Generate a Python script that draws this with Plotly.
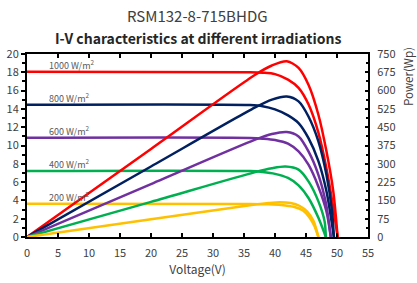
import plotly.graph_objects as go

# ---- data ----
irradiances = ["1000", "800", "600", "400", "200"]
colors = ["#FF0000", "#002060", "#7030A0", "#00B050", "#FFC000"]

# I-V curves (Voltage V, Current A)
iv_v_1000 = [0, 36, 38, 40, 42.1, 43.8, 45.4, 47.0, 48.3, 49.4, 50.1]
iv_i_1000 = [18.05, 18.0, 17.95, 17.8, 17.2, 16.3, 14.5, 11.4, 7.5, 3.2, 0]
iv_v_800 = [0, 36, 38, 40, 42.1, 43.8, 45.4, 47.0, 48.3, 49.5]
iv_i_800 = [14.45, 14.42, 14.3, 13.95, 13.3, 12.45, 10.8, 8.3, 5.0, 0]
iv_v_600 = [0, 36, 38, 40, 42.1, 43.8, 45.4, 47.0, 48.3, 49.0]
iv_i_600 = [10.85, 10.83, 10.75, 10.6, 10.2, 9.35, 7.9, 5.5, 2.8, 0]
iv_v_400 = [0, 36, 38, 40, 42.1, 43.8, 45.4, 47.0, 48.2]
iv_i_400 = [7.22, 7.2, 7.1, 6.9, 6.45, 5.64, 4.26, 2.1, 0]
iv_v_200 = [0, 36, 39, 41, 43, 44.5, 45.5, 46.3, 47.0]
iv_i_200 = [3.63, 3.62, 3.58, 3.5, 3.3, 2.9, 2.2, 1.3, 0]

# P-V curves (Voltage V, Power W)
pv_v_1000 = [0, 20, 36.8, 39.5, 41.9, 43.8, 45.4, 47.0, 48.3, 49.4, 50.1]
pv_p_1000 = [0, 361, 665, 703, 720, 693, 624, 501, 351, 187, 0]
pv_v_800 = [0, 20, 36.8, 39.5, 41.9, 43.8, 45.4, 47.0, 48.3, 49.2, 49.5]
pv_p_800 = [0, 289, 531, 563, 576, 556, 494, 392, 255, 105, 0]
pv_v_600 = [0, 20, 36.8, 39.5, 41.9, 43.8, 45.4, 47.0, 48.2, 49.0]
pv_p_600 = [0, 217, 399, 422, 430, 412, 351, 255, 140, 0]
pv_v_400 = [0, 20, 36.8, 39.5, 41.7, 43.8, 45.4, 47.0, 48.0, 48.2]
pv_p_400 = [0, 144, 266, 282, 289, 276, 228, 146, 64, 0]
pv_v_200 = [0, 20, 36.8, 39, 40.8, 42.5, 44, 45.2, 46.2, 47.0]
pv_p_200 = [0, 72.6, 133, 139, 142, 139, 127, 104, 66, 0]

isc_levels = [18.05, 14.45, 10.85, 7.22, 3.63]

iv_v = [iv_v_1000, iv_v_800, iv_v_600, iv_v_400, iv_v_200]
iv_i = [iv_i_1000, iv_i_800, iv_i_600, iv_i_400, iv_i_200]
pv_v = [pv_v_1000, pv_v_800, pv_v_600, pv_v_400, pv_v_200]
pv_p = [pv_p_1000, pv_p_800, pv_p_600, pv_p_400, pv_p_200]

x_ticks = list(range(0, 56, 5))
y_ticks = list(range(0, 21, 2))
y2_ticks = list(range(0, 751, 75))

FONT = "Noto Sans CJK SC"
TXT = "#404040"

fig = go.Figure()
for k in range(5):
    fig.add_trace(go.Scatter(x=pv_v[k], y=pv_p[k], mode="lines", yaxis="y2",
                             line=dict(color=colors[k], width=2.5, shape="spline", smoothing=0.8),
                             hoverinfo="skip", showlegend=False))
    fig.add_trace(go.Scatter(x=iv_v[k], y=iv_i[k], mode="lines",
                             line=dict(color=colors[k], width=2.5, shape="spline", smoothing=0.8),
                             hoverinfo="skip", showlegend=False))
    fig.add_annotation(x=3.2, y=isc_levels[k], xref="x", yref="y",
                       text=f"{irradiances[k]} W/m<sup>2</sup>", showarrow=False,
                       xanchor="left", yanchor="bottom", yshift=-2,
                       font=dict(family=FONT, size=9, color="#595959"))

fig.update_layout(
    width=417, height=283,
    margin=dict(l=27, r=49, t=54, b=46),
    paper_bgcolor="white", plot_bgcolor="white",
    font=dict(family=FONT, size=11, color=TXT),
    xaxis=dict(range=[0, 55], tickvals=x_ticks, ticks="inside", ticklen=4, tickwidth=1.5,
               tickcolor="black", showline=True, linecolor="black", linewidth=2,
               mirror="ticks", showgrid=False, zeroline=False, automargin=False,
               ticklabelstandoff=5,
               tickfont=dict(size=11, color=TXT),
               title=dict(text="Voltage(V)", font=dict(size=12, color=TXT), standoff=5)),
    yaxis=dict(range=[0, 20], tickvals=y_ticks, ticks="outside", ticklen=4, tickwidth=1.5,
               tickcolor="black", showline=True, linecolor="black", linewidth=2,
               mirror=True, showgrid=False, zeroline=False, automargin=False,
               minor=dict(dtick=1, ticks="outside", ticklen=3, tickcolor="black"),
               tickfont=dict(size=11, color=TXT)),
    yaxis2=dict(range=[0, 750], tickvals=y2_ticks, overlaying="y", side="right",
                ticks="inside", ticklen=3, tickwidth=1.5, tickcolor="black", automargin=False,
                showline=True, linecolor="black", linewidth=2, showgrid=False, zeroline=False,
                ticklabelstandoff=5,
                minor=dict(dtick=37.5, ticks="inside", ticklen=2, tickcolor="black"),
                tickfont=dict(size=11, color=TXT)),
)

fig.add_annotation(text="RSM132-8-715BHDG", xref="paper", yref="paper", x=0.5, y=1,
                   xanchor="center", yanchor="middle", yshift=39, showarrow=False,
                   font=dict(family=FONT, size=15, color=TXT))
fig.add_annotation(text="<b>I-V characteristics at different irradiations</b>", xref="paper",
                   yref="paper", x=0.5, y=1, xanchor="center", yanchor="middle", yshift=16,
                   showarrow=False, font=dict(family=FONT, size=14, color="#262626"))
fig.add_annotation(text="Power(Wp)", xref="paper", yref="paper", x=1, y=1, xanchor="center",
                   yanchor="middle", xshift=40, yshift=-23, textangle=-90, showarrow=False,
                   font=dict(family=FONT, size=11.5, color=TXT))

fig.write_html("out.html", config={"displayModeBar": False},
               post_script="document.body.style.margin='0px';")
